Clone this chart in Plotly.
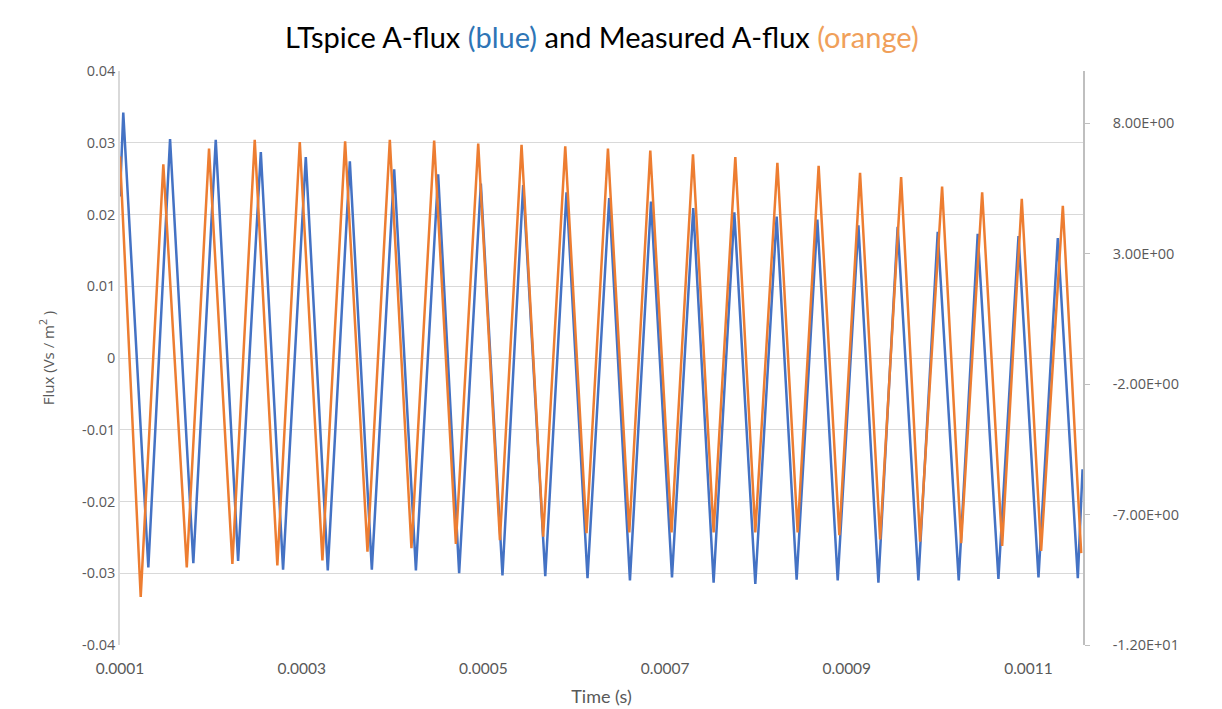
import plotly.graph_objects as go

# ---- data ----
# LTspice A-flux (blue): vertex times (microseconds) and flux values (Vs/m^2)
blue_t_us = [100.0, 103.6, 131.2, 155.1, 180.7, 205.4, 230.0, 255.0, 279.5, 304.5,
             328.7, 353.0, 377.2, 401.8, 425.7, 450.2, 473.3, 497.2, 521.0, 543.8,
             568.1, 591.5, 614.6, 638.5, 661.3, 684.5, 707.6, 731.0, 753.4, 776.2,
             799.3, 822.8, 844.8, 867.6, 890.0, 912.8, 934.8, 956.0, 978.8, 1000.1,
             1023.2, 1044.1, 1066.9, 1089.0, 1111.0, 1132.3, 1154.3, 1159.5]
blue_flux = [0.0225, 0.0342, -0.0292, 0.0305, -0.0286, 0.0304, -0.0283, 0.0287, -0.0295, 0.0280,
             -0.0296, 0.0274, -0.0295, 0.0263, -0.0296, 0.0256, -0.0300, 0.0243, -0.0303, 0.0241,
             -0.0304, 0.0231, -0.0307, 0.0223, -0.0310, 0.0218, -0.0306, 0.0209, -0.0313, 0.0203,
             -0.0315, 0.0197, -0.0309, 0.0193, -0.0310, 0.0185, -0.0313, 0.0183, -0.0310, 0.0176,
             -0.0310, 0.0173, -0.0308, 0.0170, -0.0306, 0.0167, -0.0307, -0.0155]

# Measured A-flux (orange)
orange_t_us = [100.0, 122.8, 147.7, 173.5, 198.0, 223.7, 248.3, 273.2, 297.9, 322.8,
               347.8, 372.4, 397.0, 420.8, 445.8, 469.7, 494.3, 518.2, 542.0, 565.8,
               590.1, 613.5, 637.1, 660.6, 683.7, 707.1, 730.7, 753.4, 777.3, 799.3,
               823.6, 845.9, 869.0, 891.8, 914.6, 936.7, 959.8, 980.7, 1004.9, 1025.9,
               1049.0, 1071.0, 1092.6, 1113.9, 1137.8, 1158.0]
orange_flux = [0.0281, -0.0333, 0.0270, -0.0292, 0.0292, -0.0287, 0.0304, -0.0289, 0.0301, -0.0282,
               0.0302, -0.0270, 0.0304, -0.0265, 0.0303, -0.0259, 0.0299, -0.0254, 0.0297, -0.0249,
               0.0295, -0.0244, 0.0292, -0.0243, 0.0289, -0.0243, 0.0284, -0.0243, 0.0280, -0.0243,
               0.0272, -0.0243, 0.0268, -0.0247, 0.0258, -0.0253, 0.0252, -0.0256, 0.0239, -0.0258,
               0.0231, -0.0262, 0.0222, -0.0269, 0.0212, -0.0272]

left_ticks = [-0.04, -0.03, -0.02, -0.01, 0, 0.01, 0.02, 0.03, 0.04]
left_labels = ["-0.04", "-0.03", "-0.02", "-0.01", "0", "0.01", "0.02", "0.03", "0.04"]
right_ticks = [-12, -7, -2, 3, 8]
right_labels = ["-1.20E+01", "-7.00E+00", "-2.00E+00", "3.00E+00", "8.00E+00"]
x_ticks = [0.0001, 0.0003, 0.0005, 0.0007, 0.0009, 0.0011]
x_labels = ["0.0001", "0.0003", "0.0005", "0.0007", "0.0009", "0.0011"]

blue_t = [v * 1e-6 for v in blue_t_us]
orange_t = [v * 1e-6 for v in orange_t_us]

FONT = "Lato"
TICKFONT = "Open Sans"
GRAY = "#595959"
GRID = "#D9D9D9"

fig = go.Figure()
fig.add_trace(go.Scatter(x=blue_t, y=blue_flux, mode="lines", name="LTspice A-flux",
                         line=dict(color="#4472C4", width=2.5), showlegend=False))
fig.add_trace(go.Scatter(x=orange_t, y=orange_flux, mode="lines", name="Measured A-flux",
                         line=dict(color="#ED7D31", width=2.5), showlegend=False))
# secondary axis anchor trace (no visible mark)
fig.add_trace(go.Scatter(x=[orange_t[0]], y=[None], yaxis="y2", mode="lines",
                         showlegend=False, hoverinfo="skip"))

fig.update_layout(
    width=1222, height=709,
    margin=dict(l=112, r=147, t=63, b=72),
    paper_bgcolor="white", plot_bgcolor="white",
    title=dict(
        text="LTspice A-flux <span style='color:#2E75B6'>(blue)</span> and Measured A-flux "
             "<span style='color:#F0A05A'>(orange)</span>",
        x=0.486, xanchor="center", y=0.958, yanchor="middle",
        font=dict(family=FONT, size=29, color="#000000")),
    xaxis=dict(range=[0.0001, 0.00116], tickvals=x_ticks, ticktext=x_labels,
               showgrid=False, zeroline=False, showline=False,
               tickfont=dict(family=FONT, size=15.5, color=GRAY),
               ticks="outside", ticklen=9, tickcolor="rgba(0,0,0,0)",
               title=dict(text="Time (s)", font=dict(family=FONT, size=18, color=GRAY), standoff=14)),
    yaxis=dict(range=[-0.04, 0.04], tickvals=left_ticks, ticktext=left_labels,
               showgrid=True, gridcolor=GRID, gridwidth=1, zeroline=False,
               showline=True, linecolor=GRID, linewidth=1.5, ticks="",
               tickfont=dict(family=TICKFONT, size=14.5, color=GRAY),
               title=dict(text="Flux (Vs / m<sup>2</sup> )", font=dict(family=TICKFONT, size=15, color=GRAY),
                          standoff=24)),
    yaxis2=dict(range=[-12, 10], tickvals=right_ticks, ticktext=right_labels,
                overlaying="y", side="right", showgrid=False, zeroline=False,
                showline=True, linecolor="#BFBFBF", linewidth=1.5,
                ticks="outside", ticklen=5, tickcolor="#BFBFBF", ticklabelstandoff=20,
                tickfont=dict(family=TICKFONT, size=14.5, color=GRAY)),
)

fig.write_html("out.html")
